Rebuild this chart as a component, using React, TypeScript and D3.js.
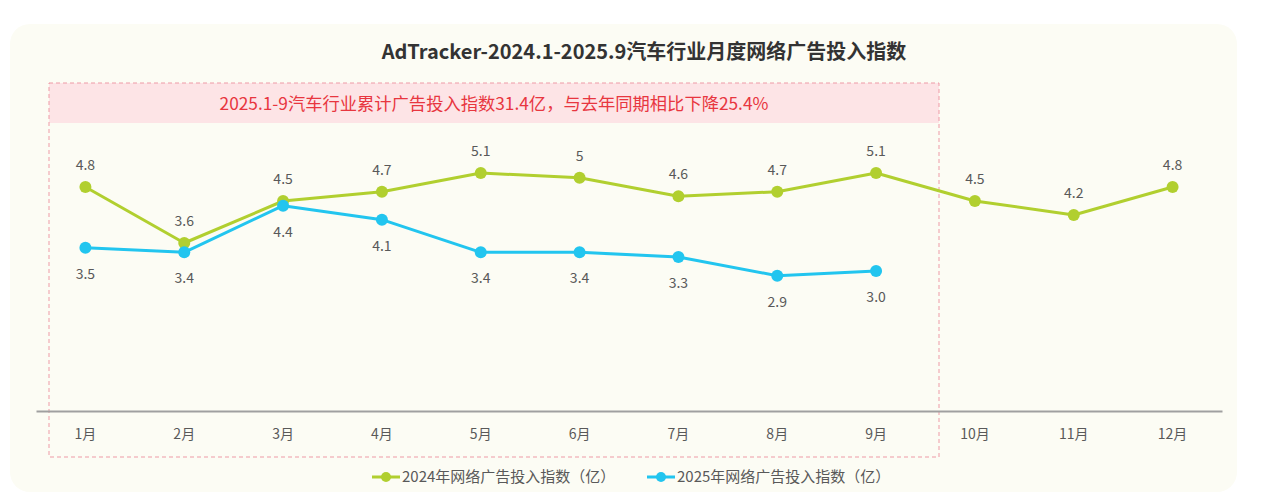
import React, { useEffect, useRef } from "react";
import * as d3 from "d3";

const months = ["1月", "2月", "3月", "4月", "5月", "6月", "7月", "8月", "9月", "10月", "11月", "12月"];
const values2024 = [4.8, 3.6, 4.5, 4.7, 5.1, 5.0, 4.6, 4.7, 5.1, 4.5, 4.2, 4.8];
const values2025 = [3.5, 3.4, 4.4, 4.1, 3.4, 3.4, 3.3, 2.9, 3.0];
const seriesNames = ["2024年网络广告投入指数（亿）", "2025年网络广告投入指数（亿）"];
const title = "AdTracker-2024.1-2025.9汽车行业月度网络广告投入指数";
const note = "2025.1-9汽车行业累计广告投入指数31.4亿，与去年同期相比下降25.4%";

const W = 1279;
const H = 501;
const GREEN = "#b1cf2f";
const BLUE = "#22c5ef";
const TEXT = "#595959";
const FONT = "'Noto Sans CJK SC', 'Noto Sans', sans-serif";

export default function App() {
	const ref = useRef<SVGSVGElement>(null);

	useEffect(() => {
		const svg = d3.select(ref.current);
		svg.selectAll("*").remove();

		// card background
		svg.append("rect")
			.attr("x", 10).attr("y", 24)
			.attr("width", 1227).attr("height", 468)
			.attr("rx", 20)
			.attr("fill", "#fcfcf4");

		svg.append("text")
			.attr("x", 644).attr("y", 59)
			.attr("text-anchor", "middle")
			.attr("font-family", FONT)
			.attr("font-size", 20)
			.attr("font-weight", "bold")
			.attr("fill", "#333")
			.text(title);

		const x = d3.scaleBand<string>().domain(months).range([36, 1222]);
		const y = d3.scaleLinear().domain([0, 6]).range([411, 131]);
		const cx = (i: number) => (x(months[i]) as number) + x.bandwidth() / 2;

		// highlighted period box
		const boxX0 = 49, boxX1 = 939, boxY0 = 83, boxY1 = 457;
		svg.append("rect")
			.attr("x", boxX0).attr("y", boxY0)
			.attr("width", boxX1 - boxX0).attr("height", 40)
			.attr("fill", "#fde4e6");
		svg.append("rect")
			.attr("x", boxX0).attr("y", boxY0)
			.attr("width", boxX1 - boxX0).attr("height", boxY1 - boxY0)
			.attr("fill", "none")
			.attr("stroke", "#ee9aa6")
			.attr("stroke-width", 1)
			.attr("stroke-dasharray", "4,3");
		svg.append("text")
			.attr("x", (boxX0 + boxX1) / 2).attr("y", 110)
			.attr("text-anchor", "middle")
			.attr("font-family", FONT)
			.attr("font-size", 17.3)
			.attr("fill", "#e8363f")
			.text(note);

		// x axis
		const axis = svg.append("g")
			.attr("transform", `translate(0,${y(0)})`)
			.call(d3.axisBottom(x).tickSize(0).tickPadding(18));
		axis.select(".domain").attr("stroke", "#a0a0a0").attr("stroke-width", 2);
		axis.selectAll("text")
			.attr("font-family", FONT)
			.attr("font-size", 14)
			.attr("fill", TEXT);

		const line = d3.line<number>()
			.x((_, i) => cx(i))
			.y((d) => y(d));

		const series = [
			{ data: values2024, color: GREEN, above: true, fmt: (v: number) => String(v) },
			{ data: values2025, color: BLUE, above: false, fmt: (v: number) => v.toFixed(1) }
		];

		series.forEach((s) => {
			const g = svg.append("g");
			g.append("path")
				.datum(s.data)
				.attr("d", line)
				.attr("fill", "none")
				.attr("stroke", s.color)
				.attr("stroke-width", 3)
				.attr("stroke-linejoin", "round");
			g.selectAll("circle")
				.data(s.data)
				.enter()
				.append("circle")
				.attr("cx", (_, i) => cx(i))
				.attr("cy", (d) => y(d))
				.attr("r", 6)
				.attr("fill", s.color);
			g.selectAll("text")
				.data(s.data)
				.enter()
				.append("text")
				.attr("x", (_, i) => cx(i))
				.attr("y", (d) => (s.above ? y(d) - 17 : y(d) + 31))
				.attr("text-anchor", "middle")
				.attr("font-family", FONT)
				.attr("font-size", 14)
				.attr("fill", TEXT)
				.text((d) => s.fmt(d));
		});

		// legend
		const legendX = [372, 647];
		series.forEach((s, i) => {
			const lg = svg.append("g").attr("transform", `translate(${legendX[i]},477)`);
			lg.append("line")
				.attr("x1", 0).attr("x2", 28)
				.attr("stroke", s.color)
				.attr("stroke-width", 3);
			lg.append("circle").attr("cx", 14).attr("r", 5).attr("fill", s.color);
			lg.append("text")
				.attr("x", 30).attr("y", 5)
				.attr("font-family", FONT)
				.attr("font-size", 15)
				.attr("fill", TEXT)
				.text(seriesNames[i]);
		});
	}, []);

	return (
		<svg
			ref={ref}
			width={W}
			height={H}
			style={{ position: "absolute", left: 0, top: 0, display: "block", background: "#fff" }}
		/>
	);
}
